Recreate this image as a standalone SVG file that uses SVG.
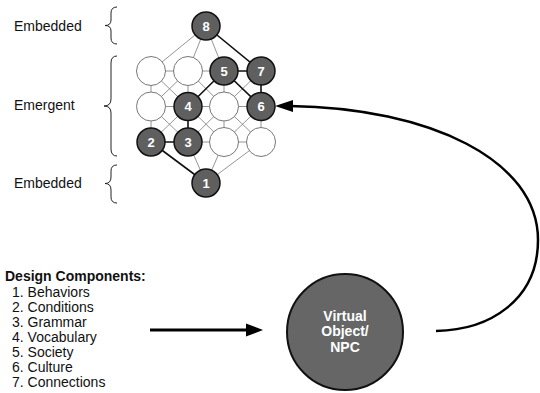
<svg xmlns="http://www.w3.org/2000/svg" width="540" height="393" viewBox="0 0 540 393">
<style>
.lbl{font-family:"Liberation Sans",Arial,sans-serif;font-size:14px;fill:#111}
.hd{font-family:"Liberation Sans",Arial,sans-serif;font-size:14px;font-weight:bold;fill:#111}
.num{font-family:"Liberation Sans",Arial,sans-serif;font-size:13px;font-weight:bold;fill:#fff;text-anchor:middle}
.big{font-size:14px}
.brace{fill:none;stroke:#222;stroke-width:1}
.thin{stroke:#7a7a7a;stroke-width:0.8;fill:none}
.bold{stroke:#111;stroke-width:1.6;fill:none}
.empty{fill:#fff;stroke:#777;stroke-width:1}
.full{fill:#5f5f5f;stroke:#111;stroke-width:1.5}
.arrow{stroke:#000;stroke-width:3;fill:none}
</style>
<g id="labels">
<text class="lbl" x="14" y="31">Embedded</text>
<text class="lbl" x="14" y="110">Emergent</text>
<text class="lbl" x="14" y="188">Embedded</text>
<path class="brace" d="M117,7 Q111,7 111,13 L111,20 Q111,25.5 105,25.5 Q111,25.5 111,31 L111,38 Q111,44 117,44"/>
<path class="brace" d="M117,56 Q111,56 111,63 L111,99 Q111,106 104,106 Q111,106 111,113 L111,149 Q111,156 117,156"/>
<path class="brace" d="M117,165 Q111,165 111,171 L111,177 Q111,183.5 105,183.5 Q111,183.5 111,190 L111,197 Q111,203 117,203"/>
</g>
<g id="connectors">
<line class="thin" x1="206" y1="26" x2="151" y2="71"/>
<line class="thin" x1="206" y1="26" x2="188" y2="71"/>
<line class="thin" x1="206" y1="26" x2="224" y2="71"/>
<line class="thin" x1="206" y1="183" x2="188" y2="142"/>
<line class="thin" x1="206" y1="183" x2="224" y2="142"/>
<line class="thin" x1="206" y1="183" x2="261" y2="142"/>
<line class="thin" x1="151" y1="71" x2="224" y2="71"/>
<line class="thin" x1="151" y1="106.5" x2="261" y2="106.5"/>
<line class="thin" x1="188" y1="142" x2="261" y2="142"/>
<line class="thin" x1="151" y1="71" x2="151" y2="142"/>
<line class="thin" x1="188" y1="71" x2="188" y2="106.5"/>
<line class="thin" x1="224" y1="71" x2="224" y2="142"/>
<line class="thin" x1="261" y1="106.5" x2="261" y2="142"/>
<line class="thin" x1="151" y1="71" x2="188" y2="106.5"/>
<line class="thin" x1="188" y1="71" x2="151" y2="106.5"/>
<line class="thin" x1="188" y1="71" x2="224" y2="106.5"/>
<line class="thin" x1="224" y1="71" x2="261" y2="106.5"/>
<line class="thin" x1="261" y1="71" x2="224" y2="106.5"/>
<line class="thin" x1="151" y1="106.5" x2="188" y2="142"/>
<line class="thin" x1="188" y1="106.5" x2="151" y2="142"/>
<line class="thin" x1="188" y1="106.5" x2="224" y2="142"/>
<line class="thin" x1="224" y1="106.5" x2="188" y2="142"/>
<line class="thin" x1="224" y1="106.5" x2="261" y2="142"/>
<line class="thin" x1="261" y1="106.5" x2="224" y2="142"/>
<line class="bold" x1="206" y1="26" x2="261" y2="71"/>
<line class="bold" x1="224" y1="71" x2="261" y2="71"/>
<line class="bold" x1="261" y1="71" x2="261" y2="106.5"/>
<line class="bold" x1="224" y1="71" x2="188" y2="106.5"/>
<line class="bold" x1="224" y1="71" x2="261" y2="106.5"/>
<line class="bold" x1="188" y1="106.5" x2="188" y2="142"/>
<line class="bold" x1="151" y1="142" x2="188" y2="142"/>
<line class="bold" x1="151" y1="142" x2="206" y2="183"/>
<line class="arrow" x1="150" y1="330" x2="248" y2="330"/>
<polygon points="246,323.5 263,330 246,336.5" fill="#000"/>
<path class="arrow" style="stroke-width:2.5" d="M436,331 C490,330 538,300 538,240 C538,160 430,108 290,106"/>
<polygon points="293,100 275,106 293,112" fill="#000"/>
</g>
<g id="n8"><circle class="full" cx="206" cy="26" r="14"/><text class="num" x="206" y="30.5">8</text></g>
<g id="r1c1"><circle class="empty" cx="151" cy="71" r="14.5"/></g>
<g id="r1c2"><circle class="empty" cx="188" cy="71" r="14.5"/></g>
<g id="n5"><circle class="full" cx="224" cy="71" r="14"/><text class="num" x="224" y="75.5">5</text></g>
<g id="n7"><circle class="full" cx="261" cy="71" r="14"/><text class="num" x="261" y="75.5">7</text></g>
<g id="r2c1"><circle class="empty" cx="151" cy="106.5" r="14.5"/></g>
<g id="n4"><circle class="full" cx="188" cy="106.5" r="14"/><text class="num" x="188" y="111">4</text></g>
<g id="r2c3"><circle class="empty" cx="224" cy="106.5" r="14.5"/></g>
<g id="n6"><circle class="full" cx="261" cy="106.5" r="14"/><text class="num" x="261" y="111">6</text></g>
<g id="n2"><circle class="full" cx="151" cy="142" r="14"/><text class="num" x="151" y="146.5">2</text></g>
<g id="n3"><circle class="full" cx="188" cy="142" r="14"/><text class="num" x="188" y="146.5">3</text></g>
<g id="r3c3"><circle class="empty" cx="224" cy="142" r="14.5"/></g>
<g id="r3c4"><circle class="empty" cx="261" cy="142" r="14.5"/></g>
<g id="n1"><circle class="full" cx="206" cy="183" r="14"/><text class="num" x="206" y="187.5">1</text></g>
<g id="components">
<text class="hd" x="5" y="281">Design Components:</text>
<text class="lbl" x="12" y="297">1. Behaviors</text>
<text class="lbl" x="12" y="312">2. Conditions</text>
<text class="lbl" x="12" y="327">3. Grammar</text>
<text class="lbl" x="12" y="342">4. Vocabulary</text>
<text class="lbl" x="12" y="357">5. Society</text>
<text class="lbl" x="12" y="372">6. Culture</text>
<text class="lbl" x="12" y="387">7. Connections</text>
</g>
<g id="npc">
<circle cx="345" cy="332" r="58" fill="#666" stroke="#111" stroke-width="2"/>
<text class="num big" x="345" y="320.5">Virtual</text>
<text class="num big" x="345" y="335.5">Object/</text>
<text class="num big" x="345" y="351.5">NPC</text>
</g>
</svg>
